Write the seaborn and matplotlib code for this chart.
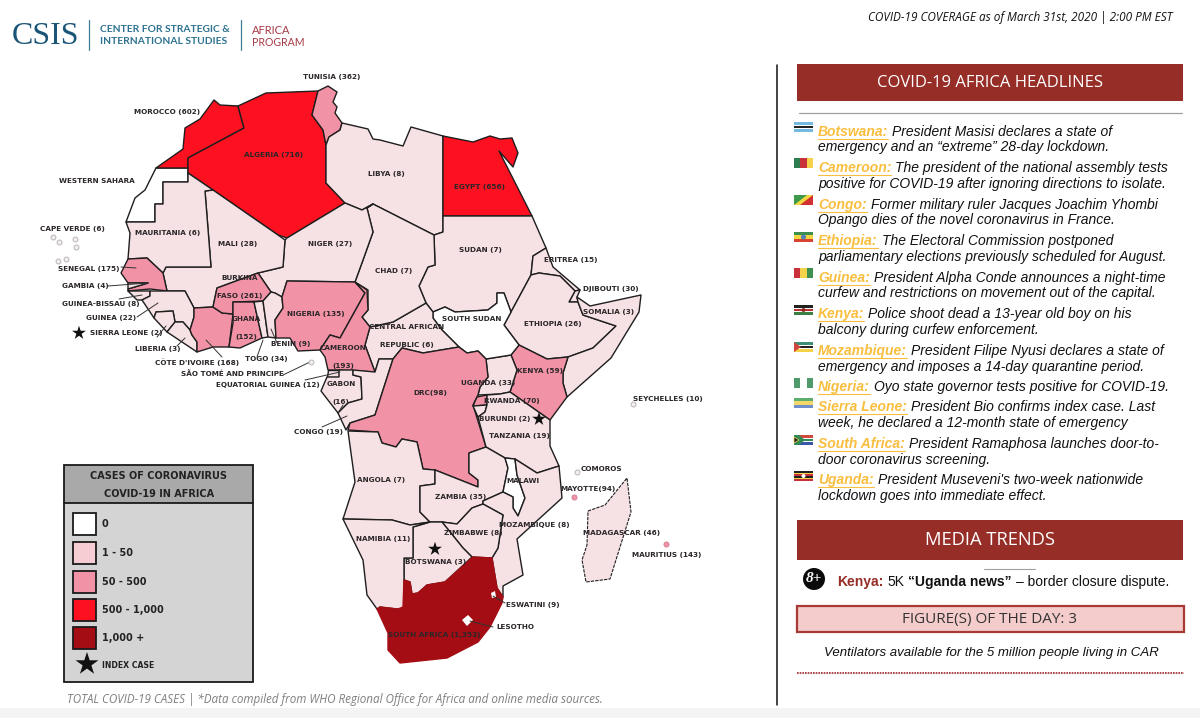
import matplotlib
matplotlib.use("Agg")
import matplotlib.pyplot as plt
from matplotlib.patches import Rectangle, Circle, Polygon
import pandas as pd
import seaborn as sns

# country values, 0 means drawn white on the map
country_names = ["Western Sahara", "Morocco", "Algeria", "Tunisia", "Libya", "Egypt", "Sudan", "Eritrea", "Djibouti",
                 "Ethiopia", "Somalia", "Kenya", "Uganda", "South Sudan", "CAR", "Chad", "Niger", "Mali", "Mauritania",
                 "Senegal", "Gambia", "Guinea-Bissau", "Guinea", "Sierra Leone", "Liberia", "Cote d'Ivoire", "Burkina Faso",
                 "Ghana", "Togo", "Benin", "Nigeria", "Cameroon", "Equatorial Guinea", "Gabon", "Congo", "DRC", "Rwanda",
                 "Burundi", "Tanzania", "Angola", "Zambia", "Malawi", "Mozambique", "Zimbabwe", "Botswana", "Namibia",
                 "South Africa", "Eswatini", "Lesotho", "Madagascar"]
country_cases = [0, 602, 716, 362, 8, 656, 7, 15, 30,
                 26, 3, 59, 33, 0, 6, 7, 27, 28, 6,
                 175, 4, 8, 22, 2, 3, 168, 261,
                 152, 34, 9, 135, 193, 12, 16, 19, 98, 70,
                 2, 19, 7, 35, 0, 8, 8, 3, 11,
                 1353, 0, 0, 46]

# legend
legend_labels = ["0", "1 - 50", "50 - 500", "500 - 1,000", "1,000 +"]
legend_colors = ["#FFFFFF", "#F5CDD2", "#F192A6", "#FD101F", "#A50D14"]
map_colors = ["#FFFFFF", "#F6E1E4", "#F192A6", "#FD101F", "#A50D14"]

# outlines
outlines = {
    "Western Sahara": [(156,168),(188,168),(188,182),(163,182),(163,204),(155,204),(155,222),(126,222),(135,198),(145,190)],
    "Morocco": [(156,168),(183,149),(185,128),(200,119),(214,100),(220,105),(238,106),(244,128),(188,158),(188,168)],
    "Algeria": [(238,106),(266,93),(318,91),(312,115),(323,130),(326,145),(326,183),(345,203),(287,238),(278,235),(213,190),(188,173),(188,158),(244,128)],
    "Tunisia": [(318,91),(328,86),(337,92),(333,102),(337,107),(335,113),(342,123),(340,130),(329,137),(326,145),(323,130),(312,115)],
    "Libya": [(342,123),(368,129),(373,139),(380,140),(403,146),(411,127),(443,136),(443,232),(434,235),(373,204),(362,210),(345,203),(326,183),(326,145),(329,137),(340,130)],
    "Egypt": [(443,136),(473,142),(490,136),(500,139),(512,138),(518,153),(513,167),(499,151),(532,216),(443,216)],
    "Sudan": [(443,216),(532,216),(546,248),(533,256),(531,275),(511,312),(504,293),(497,293),(497,303),(488,310),(455,312),(445,307),(433,312),(426,303),(419,286),(428,267),(435,265),(434,235),(443,232)],
    "Eritrea": [(546,248),(553,267),(580,290),(575,291),(560,276),(539,273),(531,275),(533,256)],
    "Djibouti": [(575,291),(580,290),(577,297),(578,302),(569,302)],
    "Ethiopia": [(531,275),(539,273),(560,276),(575,291),(569,302),(578,302),(583,315),(616,326),(593,348),(568,357),(547,359),(519,345),(504,325),(511,312)],
    "Somalia": [(577,297),(590,306),(641,295),(639,312),(611,358),(567,397),(563,383),(563,373),(568,357),(593,348),(616,326),(583,315),(578,302)],
    "Kenya": [(519,345),(547,359),(568,357),(563,373),(563,383),(567,397),(550,420),(510,392),(517,370),(511,355)],
    "Uganda": [(486,359),(511,355),(517,370),(510,392),(500,394),(478,395),(480,387),(488,377)],
    "South Sudan": [(433,312),(445,307),(455,312),(488,310),(497,303),(497,293),(504,293),(511,312),(504,325),(519,345),(511,355),(486,359),(478,351),(467,353),(459,347),(442,330),(433,318)],
    "CAR": [(370,327),(393,322),(426,303),(433,312),(433,318),(442,330),(459,347),(423,353),(402,348),(393,359),(379,359),(375,372),(365,345)],
    "Chad": [(373,204),(434,235),(435,265),(428,267),(419,286),(426,303),(393,322),(370,327),(362,317),(368,310),(368,290),(355,282),(363,260),(373,232),(367,208)],
    "Niger": [(285,240),(287,238),(345,203),(362,210),(373,204),(367,208),(373,232),(363,260),(355,282),(287,281),(282,297),(275,293),(271,292),(258,273),(283,267)],
    "Mali": [(205,191),(213,190),(278,235),(285,240),(283,267),(258,273),(247,277),(217,288),(213,307),(194,308),(185,291),(167,291),(163,273),(166,267),(211,267)],
    "Mauritania": [(126,222),(155,222),(155,204),(163,204),(163,182),(188,182),(188,173),(213,190),(205,191),(211,267),(166,267),(163,273),(147,258),(128,259),(130,233)],
    "Senegal": [(128,259),(147,258),(163,273),(167,291),(150,289),(128,291),(128,289),(148,283),(128,283),(121,273)],
    "Gambia": [(128,283),(148,283),(128,289)],
    "Guinea-Bissau": [(128,291),(150,291),(150,296),(142,300),(137,300)],
    "Guinea": [(150,291),(167,291),(185,291),(194,308),(194,317),(190,330),(183,322),(175,322),(173,311),(156,312),(154,318),(142,300),(150,296)],
    "Sierra Leone": [(154,318),(156,312),(173,311),(175,322),(167,332)],
    "Liberia": [(167,332),(175,322),(183,322),(190,330),(192,335),(197,342),(197,352)],
    "Cote d'Ivoire": [(194,308),(213,307),(222,313),(233,314),(229,347),(213,347),(197,352),(197,342),(192,335),(190,330),(194,317)],
    "Burkina Faso": [(247,277),(258,273),(271,292),(263,301),(233,302),(233,314),(222,313),(213,307),(217,288)],
    "Ghana": [(233,302),(254,302),(262,338),(240,348),(229,347),(233,323)],
    "Togo": [(254,302),(263,301),(268,337),(262,338)],
    "Benin": [(263,301),(271,292),(275,293),(282,297),(283,308),(275,320),(276,338),(268,337)],
    "Nigeria": [(287,281),(355,282),(365,293),(340,338),(330,335),(320,350),(298,351),(290,338),(276,338),(275,320),(283,308),(282,297)],
    "Cameroon": [(355,282),(367,290),(368,310),(362,317),(370,327),(365,345),(375,372),(340,370),(328,370),(325,357),(320,350),(330,335),(340,338),(365,293)],
    "Equatorial Guinea": [(328,370),(339,370),(339,377),(327,377)],
    "Gabon": [(339,370),(353,370),(353,375),(361,377),(362,399),(348,403),(338,413),(321,391),(327,377),(339,377)],
    "Congo": [(353,370),(375,372),(379,359),(393,359),(375,415),(350,423),(346,430),(338,413),(348,403),(362,399),(361,377),(353,375)],
    "DRC": [(402,348),(423,353),(459,347),(467,353),(478,351),(486,359),(488,377),(480,387),(478,395),(473,405),(486,447),(469,453),(469,473),(478,480),(478,487),(435,470),(423,469),(417,442),(402,439),(396,447),(382,443),(378,432),(348,430),(350,423),(375,415),(393,359)],
    "Rwanda": [(477,397),(487,395),(487,405),(473,406)],
    "Burundi": [(473,406),(487,405),(485,412),(478,417)],
    "Tanzania": [(487,395),(500,394),(510,392),(550,420),(550,446),(559,466),(537,473),(515,459),(505,458),(486,447),(478,417),(485,412),(487,405)],
    "Angola": [(348,431),(378,432),(382,443),(396,447),(402,439),(417,442),(423,469),(435,470),(435,484),(420,486),(420,512),(430,522),(410,525),(392,520),(343,519),(355,482)],
    "Zambia": [(435,470),(478,487),(478,480),(469,473),(469,453),(486,447),(505,458),(508,468),(503,492),(483,501),(483,504),(472,508),(457,524),(442,522),(430,522),(420,512),(420,486),(435,484)],
    "Malawi": [(505,458),(515,459),(517,475),(525,498),(518,516),(513,508),(513,497),(503,492),(508,468)],
    "Mozambique": [(515,459),(537,473),(559,466),(562,498),(517,539),(523,575),(503,586),(503,597),(497,588),(492,558),(498,548),(503,515),(483,504),(483,501),(503,492),(513,497),(513,508),(518,516),(525,498),(517,475)],
    "Zimbabwe": [(483,504),(503,515),(498,548),(492,558),(472,557),(463,548),(442,522),(457,524),(472,508)],
    "Botswana": [(413,527),(430,522),(442,522),(463,548),(472,557),(445,582),(427,585),(418,593),(412,594),(410,582),(404,580),(404,558),(413,558)],
    "Namibia": [(343,519),(392,520),(410,525),(430,522),(413,527),(413,558),(404,558),(404,610),(380,607),(377,609),(367,595),(363,560)],
    "South Africa": [(377,609),(380,607),(398,609),(403,607),(404,580),(410,582),(412,594),(418,593),(427,585),(445,582),(473,557),(492,558),(497,588),(503,597),(502,603),(490,627),(478,642),(447,658),(400,663),(388,650),(388,633)],
    "Eswatini": [(491,593),(495,591),(496,597),(492,598)],
    "Lesotho": [(462,620),(468,615),(473,620),(467,626)],
    "Madagascar": [(588,511),(605,505),(627,478),(631,512),(610,579),(586,582),(582,560),(587,545)],
}

# map labels
label_text = ["TUNISIA (362)", "MOROCCO (602)", "ALGERIA (716)", "LIBYA (8)", "EGYPT (656)", "WESTERN SAHARA", "CAPE VERDE (6)",
              "MAURITANIA (6)", "MALI (28)", "NIGER (27)", "CHAD (7)", "SUDAN (7)", "ERITREA (15)", "DJIBOUTI (30)", "SOMALIA (3)",
              "ETHIOPIA (26)", "SOUTH SUDAN", "CENTRAL AFRICAN", "REPUBLIC (6)", "SENEGAL (175)", "GAMBIA (4)", "GUINEA-BISSAU (8)",
              "GUINEA (22)", "SIERRA LEONE (2)", "LIBERIA (3)", "CÔTE D'IVOIRE (168)", "TOGO (34)", "SÃO TOMÉ AND PRINCIPE",
              "EQUATORIAL GUINEA (12)", "GABON", "(16)", "BURKINA", "FASO (261)", "GHANA", "(152)", "BENIN (9)", "NIGERIA (135)",
              "CAMEROON", "(193)", "CONGO (19)", "DRC(98)", "UGANDA (33)", "KENYA (59)", "RWANDA (70)", "BURUNDI (2)", "TANZANIA (19)",
              "SEYCHELLES (10)", "COMOROS", "MAYOTTE(94)", "MALAWI", "ANGOLA (7)", "ZAMBIA (35)", "MOZAMBIQUE (8)", "ZIMBABWE (8)",
              "NAMIBIA (11)", "MADAGASCAR (46)", "MAURITIUS (143)", "BOTSWANA (3)", "ESWATINI (9)", "LESOTHO", "SOUTH AFRICA (1,353)"]
label_x = [332, 167, 274, 386, 480, 97, 72, 168, 238, 330, 394, 480, 571, 611, 609, 553, 472, 407, 407, 89, 85, 101, 111, 126, 158, 197,
           266, 232, 268, 341, 341, 240, 240, 246, 246, 291, 316, 343, 343, 318, 430, 488, 540, 512, 505, 519, 668, 601, 588, 523, 381,
           461, 534, 473, 383, 622, 667, 436, 533, 515, 434]
label_y = [77, 112, 155, 174, 187, 181, 229, 233, 244, 244, 271, 250, 260, 289, 312, 324, 319, 327, 345, 269, 286, 304, 318, 333, 349, 362,
           359, 374, 385, 384, 402, 278, 296, 319, 337, 344, 314, 348, 366, 432, 393, 383, 371, 401, 419, 436, 399, 469, 489, 481, 480,
           497, 525, 533, 539, 533, 555, 562, 605, 627, 635]

# leader lines
leader_x = [(121,136), (108,148), (119,142), (137,158), (157,166), (177,185), (222,206), (257,263), (277,271), (283,310), (305,340), (338,343), (322,347), (493,505), (470,493)]
leader_y = [(267,268), (286,283), (299,295), (317,303), (337,326), (346,338), (357,340), (357,340), (343,329), (375,362), (380,372), (413,405), (427,416), (596,603), (621,627)]

# index case stars and small islands
star_x = [79, 539, 435]
star_y = [333, 419, 549]
island_x = [53, 59, 76, 66, 58, 75, 311, 633, 577]
island_y = [237, 242, 247, 259, 261, 239, 362, 404, 472]
pink_island_x = [574, 666]
pink_island_y = [497, 544]

# right panel text
headline_countries = ["Botswana:", "Cameroon:", "Congo:", "Ethiopia:", "Guinea:", "Kenya:", "Mozambique:", "Nigeria:", "Sierra Leone:", "South Africa:", "Uganda:"]
headline_first = ["President Masisi declares a state of", "The president of the national assembly tests", "Former military ruler Jacques Joachim Yhombi",
                  "The Electoral Commission postponed", "President Alpha Conde announces a night-time", "Police shoot dead a 13-year old boy on his",
                  "President Filipe Nyusi declares a state of", "Oyo state governor tests positive for COVID-19.", "President Bio confirms index case. Last",
                  "President Ramaphosa launches door-to-", "President Museveni's two-week nationwide"]
headline_second = ["emergency and an “extreme” 28-day lockdown.", "positive for COVID-19 after ignoring directions to isolate.", "Opango dies of the novel coronavirus in France.",
                   "parliamentary elections previously scheduled for August.", "curfew and restrictions on movement out of the capital.", "balcony during curfew enforcement.",
                   "emergency and imposes a 14-day quarantine period.", "", "week, he declared a 12-month state of emergency",
                   "door coronavirus screening.", "lockdown goes into immediate effect."]
headline_y = [132, 168, 205, 241, 278, 314, 351, 387, 407, 444, 480]
headline_y2 = [147, 184, 220, 257, 293, 330, 367, 0, 423, 460, 496]
flag_y = [122, 158, 195, 232, 268, 305, 342, 378, 398, 435, 471]

DARK_RED = "#962D27"
PEN = "#1E1E1E"
LABEL_FONT = "DejaVu Sans"
TITLE_FONT = "Lato"

sns.set_theme(style="white", rc={"axes.grid": False})
plt.rcParams["font.family"] = ["Noto Sans", "DejaVu Sans"]

fig = plt.figure(figsize=(12, 7.18), dpi=100)
ax = fig.add_axes([0, 0, 1, 1])
ax.axis("off")
fig.canvas.draw()
renderer = fig.canvas.get_renderer()


def bin_color(n):
    if n == 0:
        return map_colors[0]
    if n <= 50:
        return map_colors[1]
    if n <= 500:
        return map_colors[2]
    if n <= 1000:
        return map_colors[3]
    return map_colors[4]


# map
for name, n in zip(country_names, country_cases):
    ls = (0, (3, 1)) if name == "Madagascar" else "-"
    lw = 0.8 if name == "Madagascar" else 1.0
    edge = PEN
    z = 2
    if name == "South Africa":
        edge = map_colors[4]
        z = 3
    if name in ["Eswatini", "Lesotho"]:
        edge = "none"
        z = 3
    ax.add_patch(Polygon(outlines[name], closed=True, fc=bin_color(n), ec=edge, lw=lw, ls=ls, joinstyle="round", zorder=z))

segs = []
for i, (xs, ys) in enumerate(zip(leader_x, leader_y)):
    segs.append(pd.DataFrame({"x": xs, "y": ys, "seg": i}))
segs = pd.concat(segs, ignore_index=True)
sns.lineplot(data=segs, x="x", y="y", units="seg", estimator=None, sort=False, color="#333333", lw=0.7, legend=False, ax=ax, zorder=4)

sns.scatterplot(x=island_x, y=island_y, marker="o", s=12, color="#F8EEF0", edgecolor="#BDBDBD", linewidth=0.8, ax=ax, legend=False, zorder=4)
sns.scatterplot(x=pink_island_x, y=pink_island_y, marker="o", s=14, color=map_colors[2], edgecolor="#C9788A", linewidth=0.5, ax=ax, legend=False, zorder=4)
sns.scatterplot(x=star_x, y=star_y, marker="*", s=110, color="#111111", edgecolor="none", ax=ax, legend=False, zorder=7)
sns.scatterplot(x=[87], y=[664], marker="*", s=300, color="#111111", edgecolor="none", ax=ax, legend=False, zorder=7)

for t, x, y in zip(label_text, label_x, label_y):
    ax.text(x, y, t, ha="center", va="center", family=LABEL_FONT, fontsize=5.2, fontweight="bold", color="#2B2629", zorder=6)

# legend box
ax.add_patch(Rectangle((64, 465), 189, 38, fc="#A9A9A9", ec="none", zorder=2))
ax.add_patch(Rectangle((64, 503), 189, 179, fc="#D4D4D4", ec="none", zorder=2))
ax.add_patch(Rectangle((64, 465), 189, 217, fc="none", ec="#1A1A1A", lw=1.3, zorder=3))
ax.plot([64, 253], [503, 503], color="#1A1A1A", lw=1.3, zorder=3)
ax.text(159, 476, "CASES OF CORONAVIRUS", ha="center", va="center", family=LABEL_FONT, fontsize=7, fontweight="bold", color="#222222", zorder=4)
ax.text(159, 494, "COVID-19 IN AFRICA", ha="center", va="center", family=LABEL_FONT, fontsize=7, fontweight="bold", color="#222222", zorder=4)
swatch_top = [513, 542, 571, 599, 627]
for lab, col, top in zip(legend_labels, legend_colors, swatch_top):
    ax.add_patch(Rectangle((73, top), 23, 22, fc=col, ec="#1A1A1A", lw=1.3, zorder=4))
    ax.text(102, top + 11, lab, ha="left", va="center", family=LABEL_FONT, fontsize=7, fontweight="bold", color="#222222", zorder=4)
ax.text(102, 665, "INDEX CASE", ha="left", va="center", family=LABEL_FONT, fontsize=5.6, fontweight="bold", color="#222222", zorder=4)

# header
ax.text(12, 36, "CSIS", family="Liberation Serif", fontsize=23, color="#1A5578", ha="left", va="center")
ax.plot([88.5, 88.5], [20, 50], color="#3F7F9B", lw=0.9)
ax.plot([240.5, 240.5], [20, 50], color="#3F7F9B", lw=0.9)
ax.text(100, 30, "CENTER FOR STRATEGIC &", family=TITLE_FONT, fontsize=7.4, fontweight="bold", color="#2E7291", ha="left", va="center")
ax.text(100, 42, "INTERNATIONAL STUDIES", family=TITLE_FONT, fontsize=7.4, fontweight="bold", color="#2E7291", ha="left", va="center")
ax.text(252, 30, "AFRICA", family=TITLE_FONT, fontsize=8, color="#A63A47", ha="left", va="center")
ax.text(252, 43, "PROGRAM", family=TITLE_FONT, fontsize=7.6, color="#A63A47", ha="left", va="center")
ax.text(1172, 17, "COVID-19 COVERAGE as of March 31st, 2020 | 2:00 PM EST", family="Open Sans", style="italic", fontsize=8.5, color="#111111", ha="right", va="center")

# footer and fade at the bottom
ax.text(67, 699, "TOTAL COVID-19 CASES | *Data compiled from WHO Regional Office for Africa and online media sources.", family="Open Sans", style="italic", fontsize=8.4, color="#7F7F7F", ha="left", va="center")
ax.add_patch(Rectangle((0, 708), 1200, 10, fc="#F4F4F4", ec="none", zorder=0))

# divider and banners
ax.plot([777, 777], [65, 705], color="#111111", lw=1.1)
ax.add_patch(Rectangle((797, 64), 386, 37, fc=DARK_RED, ec="none"))
ax.text(990, 83, "COVID-19 AFRICA HEADLINES", family="Open Sans", fontsize=12, color="white", ha="center", va="center")
ax.plot([799, 1182], [113, 113], color="#A0A0A0", lw=0.9)
ax.add_patch(Rectangle((797, 520), 386, 40, fc=DARK_RED, ec="none"))
ax.text(990, 540, "MEDIA TRENDS", family="Open Sans", fontsize=13.2, color="white", ha="center", va="center")
ax.plot([984, 1035], [569, 569], color="#A0A0A0", lw=0.8)


def run(x, y, s, **kw):
    # left aligned piece of a line, gives back where it ended
    t = ax.text(x, y, s, ha="left", va="center", family="Liberation Sans", **kw)
    return x + t.get_window_extent(renderer).width


# headlines
HEAD_SIZE = 10
for c, a, b, y, y2 in zip(headline_countries, headline_first, headline_second, headline_y, headline_y2):
    end = run(818, y, c, fontsize=HEAD_SIZE, style="italic", fontweight="bold", color="#F9BE3E")
    ax.plot([818, end], [y + 7, y + 7], color="#F9BE3E", lw=0.8)
    run(end + 4, y, a, fontsize=HEAD_SIZE, style="italic", color="#111111")
    if b:
        run(818, y2, b, fontsize=HEAD_SIZE, style="italic", color="#111111")


# flags
def hflag(y, colors, heights):
    cur = y
    total = sum(heights)
    for c, h in zip(colors, heights):
        hh = 10 * h / total
        ax.add_patch(Rectangle((794, cur), 19, hh, fc=c, ec="none"))
        cur += hh


def vflag(y, colors):
    for i, c in enumerate(colors):
        ax.add_patch(Rectangle((794 + i * 19 / len(colors), y), 19 / len(colors), 10, fc=c, ec="none"))


hflag(flag_y[0], ["#74B9E2", "#FFFFFF", "#222222", "#FFFFFF", "#74B9E2"], [4, 1, 2, 1, 4])
vflag(flag_y[1], ["#2E7D50", "#C8303A", "#F4D24A"])
ax.add_patch(Rectangle((794, flag_y[2]), 19, 10, fc="#F3D53F", ec="none"))
ax.add_patch(Polygon([(794, flag_y[2]), (807, flag_y[2]), (794, flag_y[2] + 10)], fc="#3C9A4A", ec="none"))
ax.add_patch(Polygon([(813, flag_y[2]), (813, flag_y[2] + 10), (800, flag_y[2] + 10)], fc="#D0302F", ec="none"))
hflag(flag_y[3], ["#3C8F4F", "#F3D53F", "#D8432F"], [1, 1, 1])
ax.add_patch(Circle((803.5, flag_y[3] + 5), 2.5, fc="#4C80B8", ec="none"))
vflag(flag_y[4], ["#C8303A", "#F4D24A", "#3C8F4F"])
hflag(flag_y[5], ["#222222", "#FFFFFF", "#B8322E", "#FFFFFF", "#3C7F42"], [3, 1, 3, 1, 3])
ax.add_patch(Circle((803.5, flag_y[5] + 5), 2, fc="#8C2A22", ec="none"))
hflag(flag_y[6], ["#3E8F77", "#FFFFFF", "#222222", "#FFFFFF", "#F4D24A"], [3, 1, 3, 1, 3])
ax.add_patch(Polygon([(794, flag_y[6]), (801, flag_y[6] + 5), (794, flag_y[6] + 10)], fc="#D0443C", ec="none"))
vflag(flag_y[7], ["#4E9A6B", "#FFFFFF", "#4E9A6B"])
hflag(flag_y[8], ["#5BAE6F", "#F3D768", "#6E8FCB"], [1, 1, 1])
hflag(flag_y[9], ["#CF4A3A", "#FFFFFF", "#2F8A55", "#FFFFFF", "#3A57A8"], [4, 1, 2, 1, 4])
ax.add_patch(Polygon([(794, flag_y[9]), (799, flag_y[9]), (805, flag_y[9] + 5), (799, flag_y[9] + 10), (794, flag_y[9] + 10)], fc="#2F8A55", ec="none"))
ax.add_patch(Polygon([(794, flag_y[9] + 2), (799, flag_y[9] + 5), (794, flag_y[9] + 8)], fc="#222222", ec="#F4D24A", lw=0.5))
hflag(flag_y[10], ["#222222", "#F4D24A", "#C8303A", "#222222", "#F4D24A", "#C8303A"], [1, 1, 1, 1, 1, 1])
ax.add_patch(Circle((803.5, flag_y[10] + 5), 2, fc="#FFFFFF", ec="none"))

# media trends line
ax.add_patch(Circle((814, 579), 11, fc="#0A0A0A", ec="none"))
ax.text(814, 578.5, "8+", family="Liberation Serif", style="italic", fontweight="bold", fontsize=11, color="white", ha="center", va="center")
end = run(837, 582, "Kenya:", fontsize=10, fontweight="bold", color=DARK_RED)
end = run(end + 4, 582, "5K", fontsize=10, color="#111111")
end = run(end + 4, 582, "“Uganda news”", fontsize=10, fontweight="bold", color="#111111")
run(end + 4, 582, "– border closure dispute.", fontsize=10, color="#111111")

ax.add_patch(Rectangle((797, 606), 387, 26, fc="#F4CCCB", ec="#A83A36", lw=1.6))
ax.text(990, 619, "FIGURE(S) OF THE DAY: 3", family="Open Sans", fontsize=11, color="#333333", ha="center", va="center")
ax.text(991, 653, "Ventilators available for the 5 million people living in CAR", family="Liberation Sans", style="italic", fontsize=9.5, color="#111111", ha="center", va="center")
ax.plot([797, 1184], [673, 673], color="#A0232A", lw=1.2, ls=(0, (1, 0.6)))

ax.set_xlim(0, 1200)
ax.set_ylim(718, 0)
ax.set_xlabel("")
ax.set_ylabel("")
fig.savefig("out.png", dpi=100, facecolor="white")
